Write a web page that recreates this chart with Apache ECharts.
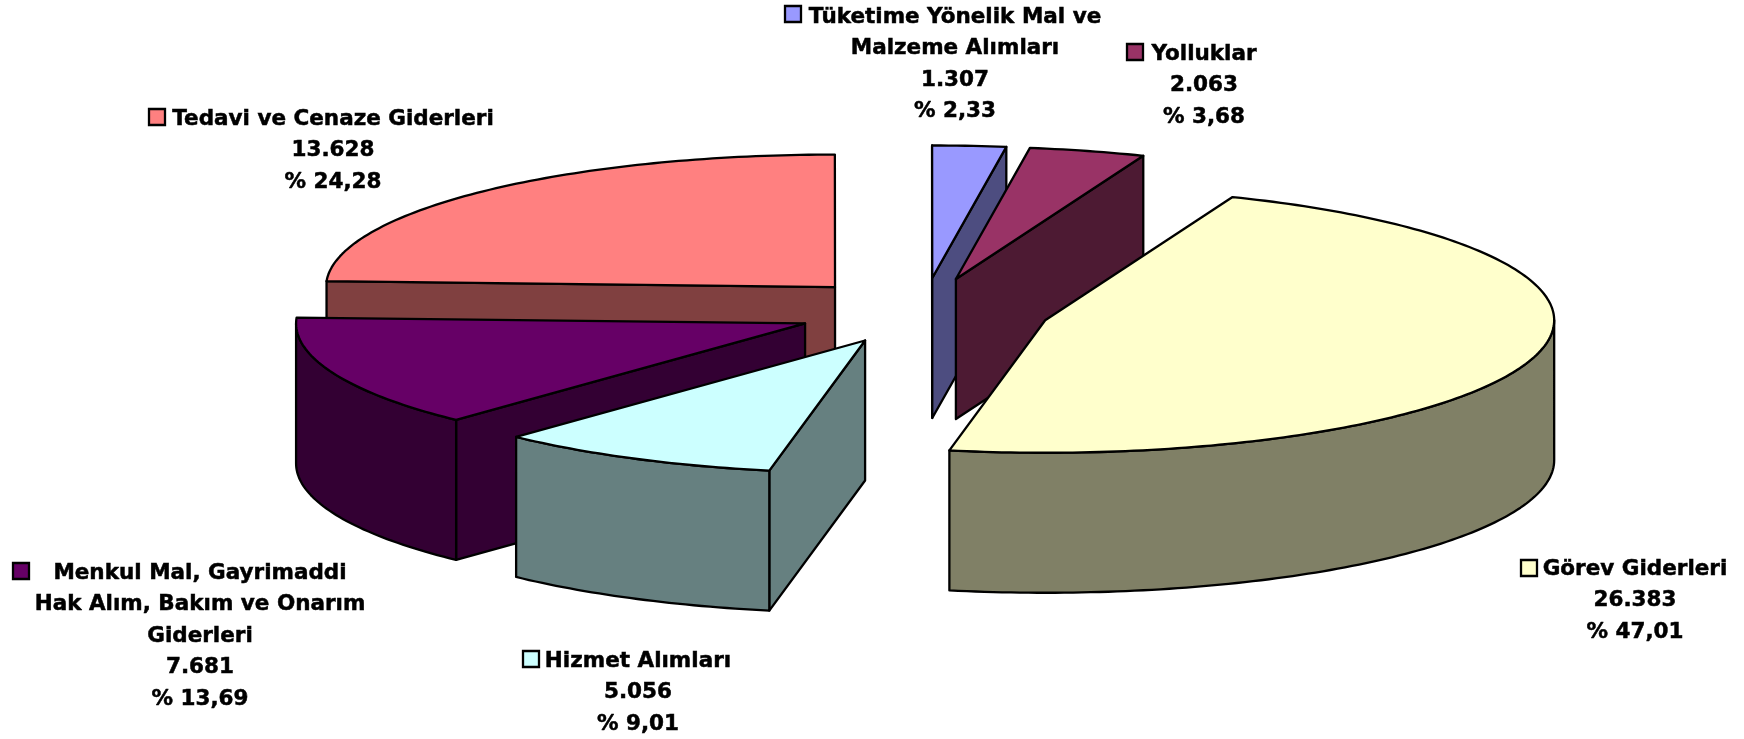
<!DOCTYPE html>
<html>
<head>
<meta charset="utf-8">
<title>Gider dağılımı</title>
<script src="https://cdn.jsdelivr.net/npm/echarts@6/dist/echarts.min.js"></script>
<style>
    html, body { margin: 0; padding: 0; background: #fff; }
    #chart { width: 1744px; height: 739px; }
</style>
</head>
<body>
<div id="chart"></div>
<script>
// pie order, clockwise from the first slice
const categories = [
    'Görev Giderleri',
    'Hizmet Alımları',
    'Menkul Mal, Gayrimaddi\nHak Alım, Bakım ve Onarım\nGiderleri',
    'Tedavi ve Cenaze Giderleri',
    'Tüketime Yönelik Mal ve\nMalzeme Alımları',
    'Yolluklar'
]
const values = [26383, 5056, 7681, 13628, 1307, 2063]
const valueLabels = ['26.383', '5.056', '7.681', '13.628', '1.307', '2.063']
const percentLabels = ['% 47,01', '% 9,01', '% 13,69', '% 24,28', '% 2,33', '% 3,68']

// back to front
const drawOrder = [3, 2, 1, 4, 5, 0]

const topColors = ['#FFFFCC', '#CCFFFF', '#660066', '#FF8080', '#9999FF', '#993366']
const sideColors = ['#808066', '#668080', '#330033', '#804040', '#4D4D80', '#4D1A33']

// label anchor: centre x and y of first line, then legend key x and y
const labelPos = [
    [1635, 569, 1521, 560],
    [638, 661, 523, 651],
    [200, 573, 13, 563],
    [333, 119, 149, 109],
    [955, 17, 785, 6],
    [1204, 54, 1127, 44]
]

const CX = 923, CY = 311, RX = 509, RY = 132.5, DEPTH = 140
const EXPLODE = 0.25, START_ANGLE = 21.6
const LINE_W = 2.3, FONT_SIZE = 21.5, LINE_H = 31.5

const total = values.reduce((a, b) => a + b, 0)
const toRad = d => d * Math.PI / 180

function sliceAngles(idx) {
    let a = START_ANGLE
    for (let i = 0; i < idx; i++) a += values[i] / total * 360
    return [a, a + values[idx] / total * 360]
}

function renderSlice(params, api) {
    const idx = api.value(1)
    const [a0, a1] = sliceAngles(idx)
    const mid = toRad((a0 + a1) / 2)
    const ox = CX + EXPLODE * RX * Math.sin(mid)
    const oy = CY - EXPLODE * RY * Math.cos(mid)
    const pt = (deg, drop) => [ox + RX * Math.sin(toRad(deg)), oy - RY * Math.cos(toRad(deg)) + drop]
    const arc = (from, to, drop) => {
        const pts = []
        const n = Math.max(2, Math.ceil(Math.abs(to - from)))
        for (let i = 0; i <= n; i++) pts.push(pt(from + (to - from) * i / n, drop))
        return pts
    }
    const face = (points, fill) => ({
        type: 'polygon',
        shape: { points },
        style: { fill, stroke: '#000', lineWidth: LINE_W, lineJoin: 'round' }
    })
    const cut = deg => face([
        [ox, oy], pt(deg, 0), pt(deg, DEPTH), [ox, oy + DEPTH]
    ], sideColors[idx])

    const children = []
    // a cut face shows only when it turns toward the viewer
    if (Math.sin(toRad(a0)) < 0) children.push(cut(a0))
    if (Math.sin(toRad(a1)) > 0) children.push(cut(a1))
    const w0 = Math.max(a0, 90), w1 = Math.min(a1, 270)
    if (w1 > w0) {
        children.push(face(arc(w0, w1, 0).concat(arc(w1, w0, DEPTH)), sideColors[idx]))
    }
    children.push(face([[ox, oy]].concat(arc(a0, a1, 0)), topColors[idx]))

    const [lx, ly, kx, ky] = labelPos[idx]
    children.push({
        type: 'text',
        x: lx,
        y: ly - LINE_H / 2,
        style: {
            text: categories[idx] + '\n' + valueLabels[idx] + '\n' + percentLabels[idx],
            font: 'bold ' + FONT_SIZE + 'px "DejaVu Sans"',
            fill: '#000',
            stroke: '#000',
            lineWidth: 0.5,
            align: 'center',
            verticalAlign: 'top',
            lineHeight: LINE_H
        }
    })
    children.push({
        type: 'rect',
        shape: { x: kx, y: ky, width: 16, height: 16 },
        style: { fill: topColors[idx], stroke: '#000', lineWidth: LINE_W }
    })
    return { type: 'group', children }
}

const chart = echarts.init(document.getElementById('chart'))
chart.setOption({
    animation: false,
    backgroundColor: '#fff',
    series: [{
        type: 'custom',
        coordinateSystem: 'none',
        renderItem: renderSlice,
        data: drawOrder.map(i => ({ name: categories[i], value: [values[i], i] }))
    }]
})
</script>
</body>
</html>
